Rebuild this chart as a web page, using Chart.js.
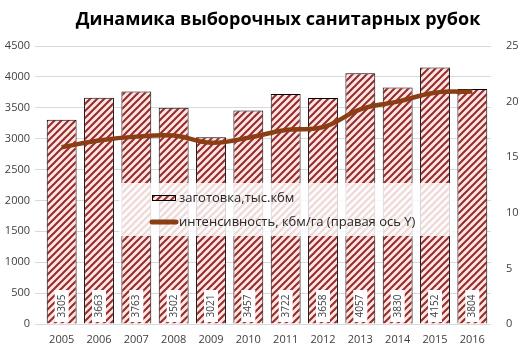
<!DOCTYPE html>
<html><head><meta charset="utf-8">
<script src="https://cdn.jsdelivr.net/npm/chart.js@4/dist/chart.umd.min.js"></script>
<style>html,body{margin:0;padding:0;background:#fff}#wrap{width:528px;height:357px;position:relative}</style>
</head><body><div id="wrap"><canvas id="c" width="528" height="357"></canvas></div>
<script>
const titleText = 'Динамика выборочных санитарных рубок';
const categories = ['2005','2006','2007','2008','2009','2010','2011','2012','2013','2014','2015','2016'];
const harvest = [3305,3663,3763,3502,3021,3457,3722,3658,4057,3830,4152,3804];
const intensity = [15.9,16.5,16.85,16.95,16.3,16.75,17.45,17.7,19.3,20.0,20.8,20.9];
const leftTicks = [0,500,1000,1500,2000,2500,3000,3500,4000,4500];
const rightTicks = [0,5,10,15,20,25];
const seriesNames = ['заготовка,тыс.кбм','интенсивность, кбм/га (правая ось Y)'];

const FONT = '"Open Sans", "Noto Sans", sans-serif';

function makePattern(){
  const s = 7;
  const c = document.createElement('canvas'); c.width = s; c.height = s;
  const g = c.getContext('2d');
  g.fillStyle = '#fde5e1'; g.fillRect(0,0,s,s);
  g.strokeStyle = '#962b2e'; g.lineWidth = 2;
  g.beginPath();
  g.moveTo(-1, s+1); g.lineTo(s+1, -1);
  g.moveTo(-1, 1); g.lineTo(1, -1);
  g.moveTo(s-1, s+1); g.lineTo(s+1, s-1);
  g.stroke();
  return document.getElementById('c').getContext('2d').createPattern(c,'repeat');
}
const pattern = makePattern();

const titlePlugin = {
  id:'titleP',
  afterDraw(chart){
    const ctx = chart.ctx; ctx.save();
    ctx.font = 'bold 18px ' + FONT; ctx.fillStyle = '#000';
    ctx.textAlign = 'center'; ctx.textBaseline = 'middle';
    ctx.fillText(titleText, 278, 20);
    ctx.restore();
  }
};

const labelPlugin = {
  id:'labelsP',
  afterDatasetsDraw(chart){
    const ctx = chart.ctx; const meta = chart.getDatasetMeta(0);
    const yb = chart.scales.y.getPixelForValue(0);
    ctx.save();
    meta.data.forEach((el,i)=>{
      const x = el.x;
      ctx.fillStyle = '#fff';
      ctx.fillRect(x-7, yb-34, 14, 32);
      ctx.save();
      ctx.translate(x, yb-18);
      ctx.rotate(-Math.PI/2);
      ctx.font = '10px ' + FONT; ctx.fillStyle = '#404040';
      ctx.textAlign='center'; ctx.textBaseline='middle';
      ctx.fillText(String(harvest[i]), 0, 0);
      ctx.restore();
    });
    // legend overlay
    ctx.fillStyle = 'rgba(255,255,255,0.82)';
    ctx.fillRect(119, 183, 338, 53);
    ctx.fillStyle = pattern; ctx.fillRect(152,195,24,6);
    ctx.strokeStyle = '#000'; ctx.lineWidth = 1; ctx.strokeRect(152.5,195.5,23,5);
    ctx.strokeStyle = '#8B3E14'; ctx.lineWidth = 5; ctx.lineCap='round';
    ctx.beginPath(); ctx.moveTo(152,222); ctx.lineTo(176,222); ctx.stroke();
    ctx.font = '13px ' + FONT; ctx.fillStyle = '#262626';
    ctx.textAlign='left'; ctx.textBaseline='middle';
    ctx.fillText(seriesNames[0], 179, 198);
    ctx.fillText(seriesNames[1], 179, 222);
    ctx.restore();
  }
};

new Chart(document.getElementById('c'), {
  data:{
    labels: categories,
    datasets:[
      {type:'bar', label:seriesNames[0], data:harvest, yAxisID:'y', backgroundColor:pattern,
       borderColor:'#000', borderWidth:1, categoryPercentage:1, barPercentage:0.8, order:2},
      {type:'line', label:seriesNames[1], data:intensity, yAxisID:'y1', borderColor:'#8B3E14',
       borderWidth:4.5, tension:0.4, pointRadius:0, fill:false, order:1}
    ]
  },
  options:{
    responsive:false, animation:false,
    layout:{padding:{top:46,left:0,right:0,bottom:0}},
    plugins:{legend:{display:false}, tooltip:{enabled:false}, title:{display:false}},
    scales:{
      x:{grid:{display:false}, border:{display:false},
         ticks:{color:'#404040', font:{size:11, family:FONT}, padding:1, maxRotation:0},
         afterFit(s){ s.height = 33; }},
      y:{position:'left', min:0, max:4500, grid:{color:'#d9d9d9'}, border:{display:false},
         afterBuildTicks(s){ s.ticks = leftTicks.map(v=>({value:v})); },
         ticks:{color:'#404040', font:{size:11, family:FONT}, padding:5, callback:v=>String(v)},
         afterFit(s){ s.width = 43; }},
      y1:{position:'right', min:0, max:25, grid:{display:false}, border:{display:false},
         afterBuildTicks(s){ s.ticks = rightTicks.map(v=>({value:v})); },
         ticks:{color:'#404040', font:{size:11, family:FONT}, padding:7, callback:v=>String(v)},
         afterFit(s){ s.width = 37; }}
    }
  },
  plugins:[titlePlugin, labelPlugin]
});
</script></body></html>
